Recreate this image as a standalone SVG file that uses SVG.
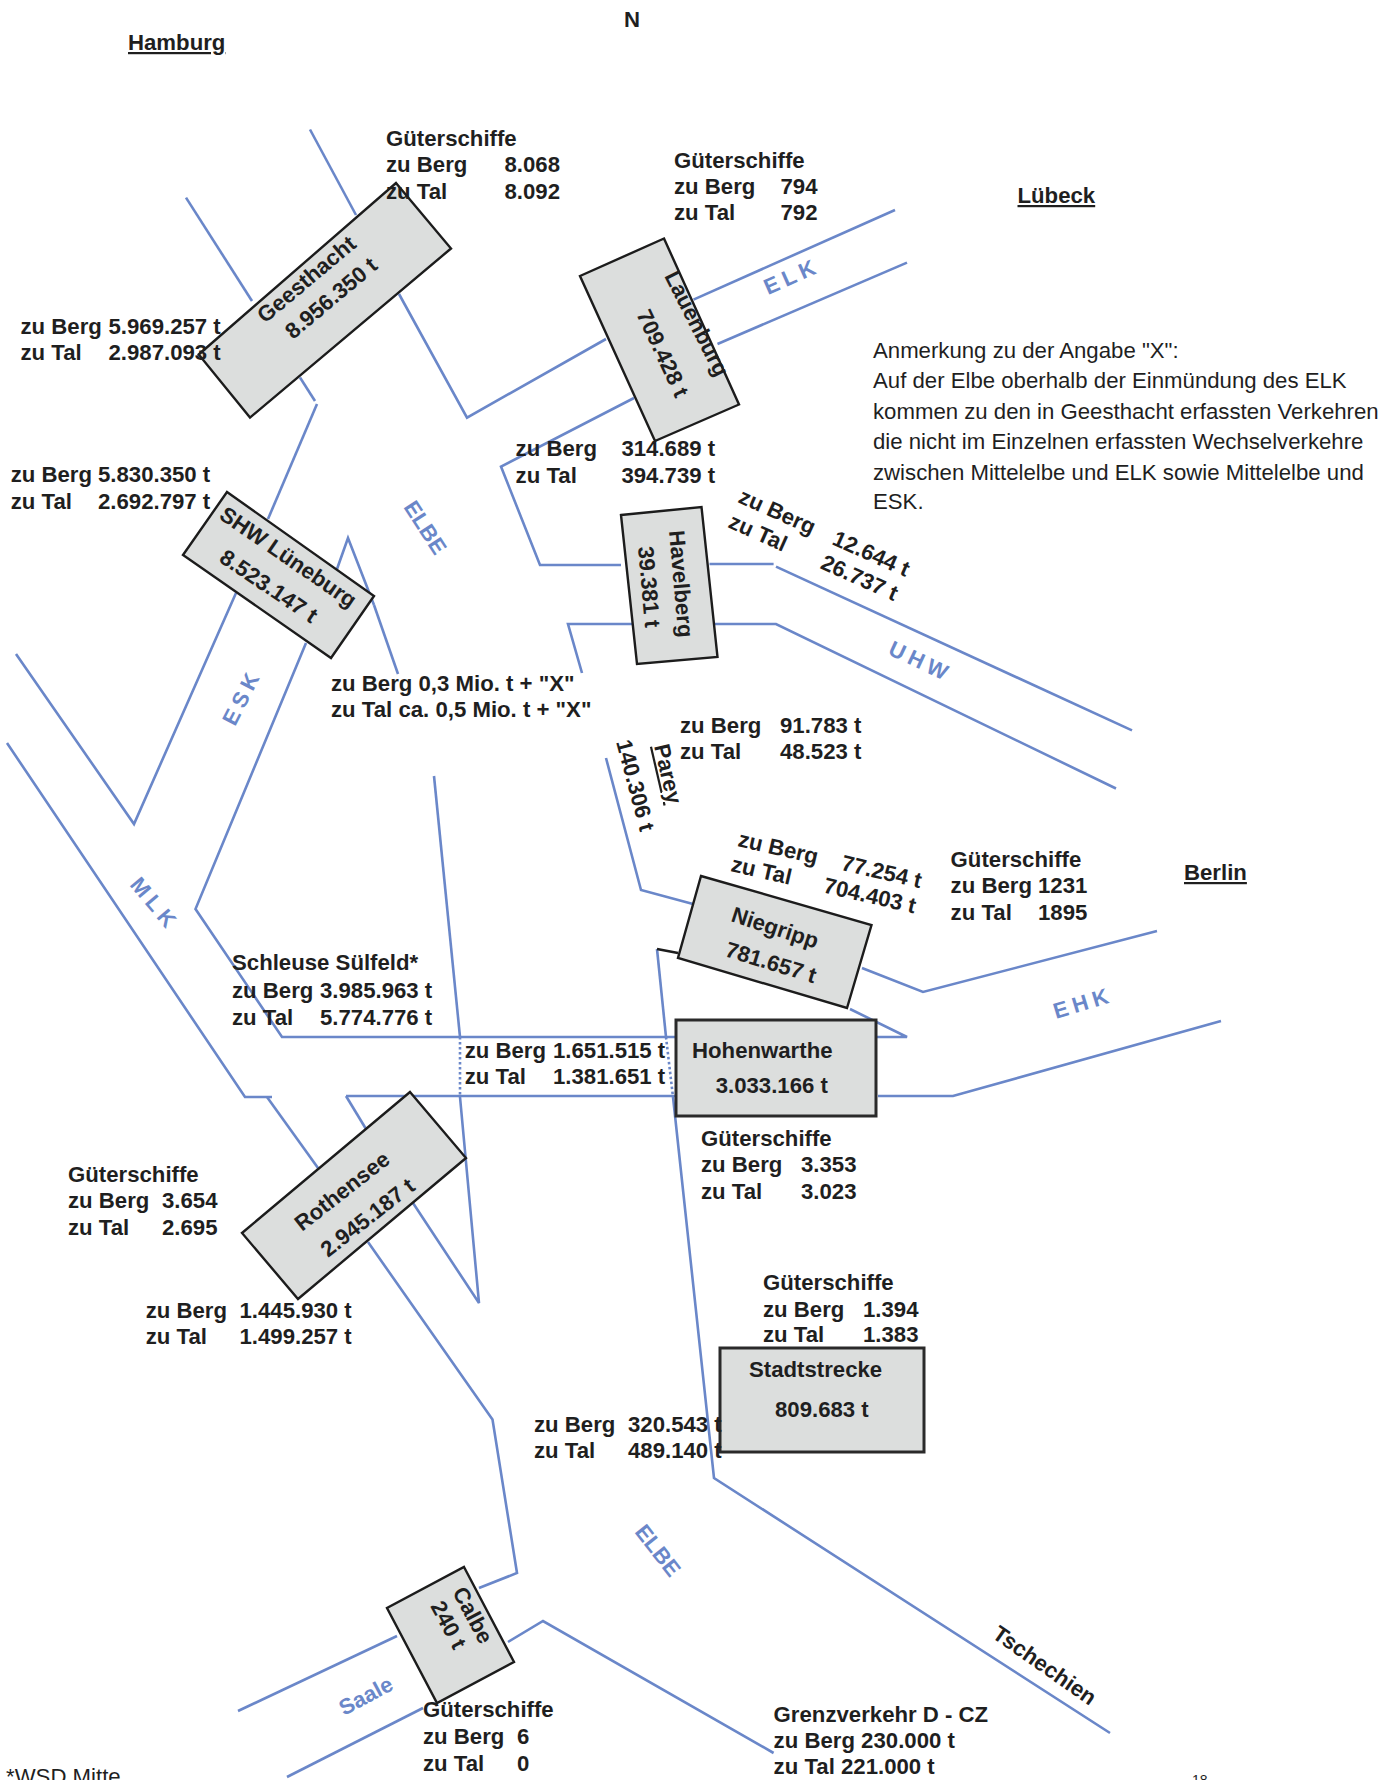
<svg xmlns="http://www.w3.org/2000/svg" width="1397" height="1780" viewBox="0 0 1397 1780">
<style>
text{font-family:"Liberation Sans",Arial,sans-serif;font-size:22.2px;font-weight:700;fill:#1f1f1f}
.r{font-weight:400}
.u{text-decoration:underline}
.w{fill:#6a87c9;font-size:22px}
.box{fill:#dcdedd;stroke:#1c1c1c;stroke-width:2.4;stroke-linejoin:miter}
.rb{stroke:#2a2a2a;stroke-width:3}
.l{fill:none;stroke:#6a87c9;stroke-width:2.6;stroke-linejoin:miter}
.d{fill:none;stroke:#6a87c9;stroke-width:2.6;stroke-dasharray:2.5 2.5}
.k{fill:none;stroke:#1c1c1c;stroke-width:2.4}
</style>
<rect width="1397" height="1780" fill="#fff"/>
<g id="connectors">
<polyline class="l" points="310,129.500 356,215"/>
<polyline class="l" points="399,294 467,417.600 606,339"/>
<polyline class="l" points="186,197.600 252,301"/>
<polyline class="l" points="300,377.500 315,401"/>
<polyline class="l" points="317,404 268,519"/>
<polyline class="l" points="236,593 134,824 16,654"/>
<polyline class="l" points="337,569 348,538 374,605"/>
<polyline class="l" points="374,605 398,674"/>
<polyline class="l" points="306,643 195.500,909 282,1037 676,1037"/>
<polyline class="l" points="7,743 245,1097 272,1097"/>
<polyline class="l" points="267,1097 318,1168"/>
<polyline class="l" points="368,1242 492.500,1419.500 517,1573 479,1588"/>
<polyline class="l" points="346,1096 676,1096"/>
<polyline class="l" points="346,1096 366,1129"/>
<polyline class="l" points="413,1203 479,1303 460,1097"/>
<polyline class="l" points="434,776 460,1037"/>
<line class="d" x1="460" y1="1037" x2="460" y2="1097"/>
<polyline class="l" points="657,949 666,1037"/>
<polyline class="k" points="657,949 678,953"/>
<line class="d" x1="666" y1="1037" x2="673" y2="1097"/>
<polyline class="l" points="673,1097 714,1478 1110,1733"/>
<polyline class="l" points="606,758 641,890 693,904"/>
<polyline class="l" points="862,968 923,992 1157,931"/>
<polyline class="l" points="850,1009 907,1037 875,1037"/>
<polyline class="l" points="878,1096 953,1096 1221,1021"/>
<polyline class="l" points="693.500,299.600 895,210"/>
<polyline class="l" points="717.500,344 907,262.600"/>
<polyline class="l" points="634,398 501,466.600 540,565 621,565"/>
<polyline class="l" points="709.500,564 773.600,564"/>
<polyline class="l" points="776,566.600 1132,730.400"/>
<polyline class="l" points="582,673 568,624 632,624"/>
<polyline class="l" points="715,624 776,624 1116,788.500"/>
<polyline class="l" points="238,1711 397,1636"/>
<polyline class="l" points="287,1777 423,1708"/>
<polyline class="l" points="508,1642 543,1621 773.600,1753"/>
</g>
<g id="node-geesthacht">
<polygon class="box" points="396,183 451,248.500 250,417.600 198.700,354.500"/>
<text transform="translate(265,324) rotate(-40)">Geesthacht</text>
<text transform="translate(293,340) rotate(-40)">8.956.350 t</text>
</g>
<g id="node-lauenburg">
<polygon class="box" points="664,238.500 739,404.500 655,441 580,276"/>
<text transform="translate(664,276) rotate(63)">Lauenburg</text>
<text transform="translate(636,314) rotate(65)">709.428 t</text>
</g>
<g id="node-shw">
<polygon class="box" points="227,492 374,596 331,658 183,555"/>
<text transform="translate(218,518) rotate(34.500)">SHW Lüneburg</text>
<text transform="translate(218,561) rotate(34)">8.523.147 t</text>
</g>
<g id="node-havelberg">
<polygon class="box" points="621,515 701.500,507 717.500,657 637,664"/>
<text transform="translate(669,531) rotate(85)">Havelberg</text>
<text transform="translate(638,547) rotate(85)">39.381 t</text>
</g>
<g id="node-niegripp">
<polygon class="box" points="701,876 871.500,925 847,1008 678,958" />
<text transform="translate(730,921) rotate(18)">Niegripp</text>
<text transform="translate(724,956) rotate(17)">781.657 t</text>
</g>
<g id="node-hohenwarthe">
<rect class="box rb" x="676" y="1020" width="200" height="96"/>
<text x="692" y="1058">Hohenwarthe</text>
<text x="715.700" y="1093">3.033.166 t</text>
</g>
<g id="node-rothensee">
<polygon class="box" points="410,1092 466,1158 298,1299 242,1233"/>
<text transform="translate(302,1232) rotate(-38)">Rothensee</text>
<text transform="translate(328,1258) rotate(-38)">2.945.187 t</text>
</g>
<g id="node-stadtstrecke">
<rect class="box rb" x="720" y="1348" width="204" height="104"/>
<text x="749" y="1377">Stadtstrecke</text>
<text x="775" y="1417">809.683 t</text>
</g>
<g id="node-calbe">
<polygon class="box" points="464,1567 514,1662 437,1703 387,1608"/>
<text transform="translate(452,1592) rotate(62)">Calbe</text>
<text transform="translate(430,1606) rotate(62)">240 t</text>
</g>
<g id="node-parey">
<text transform="translate(616,742) rotate(75)">140.306 t</text>
<text class="u" transform="translate(654,746) rotate(77)">Parey</text>
</g>
<g id="labels">
<text x="624" y="27">N</text>
<text class="u" x="128" y="50">Hamburg</text>
<text class="u" x="1017.500" y="203">Lübeck</text>
<text class="u" x="1184" y="880">Berlin</text>
<text x="386" y="146">Güterschiffe</text>
<text x="386" y="172">zu Berg<tspan x="504.500">8.068</tspan></text>
<text x="386" y="199">zu Tal<tspan x="504.500">8.092</tspan></text>
<text x="674" y="168">Güterschiffe</text>
<text x="674" y="194">zu Berg<tspan x="780.500">794</tspan></text>
<text x="674" y="220">zu Tal<tspan x="780.500">792</tspan></text>
<text class="r" x="873" y="358">Anmerkung zu der Angabe "X":</text>
<text class="r" x="873" y="388">Auf der Elbe oberhalb der Einmündung des ELK</text>
<text class="r" x="873" y="419">kommen zu den in Geesthacht erfassten Verkehren</text>
<text class="r" x="873" y="449">die nicht im Einzelnen erfassten Wechselverkehre</text>
<text class="r" x="873" y="479.500">zwischen Mittelelbe und ELK sowie Mittelelbe und</text>
<text class="r" x="873" y="509">ESK.</text>
<text x="20.500" y="334">zu Berg<tspan x="108.500">5.969.257 t</tspan></text>
<text x="20.500" y="360">zu Tal<tspan x="108.500">2.987.093 t</tspan></text>
<text x="10.700" y="482">zu Berg<tspan x="98">5.830.350 t</tspan></text>
<text x="10.700" y="509">zu Tal<tspan x="98">2.692.797 t</tspan></text>
<text x="515.600" y="456">zu Berg<tspan x="621.400">314.689 t</tspan></text>
<text x="515.600" y="482.500">zu Tal<tspan x="621.400">394.739 t</tspan></text>
<text transform="translate(737,502) rotate(24)">zu Berg<tspan x="103">12.644 t</tspan></text>
<text transform="translate(727,527) rotate(24)">zu Tal<tspan x="101">26.737 t</tspan></text>
<text x="331" y="690.700">zu Berg 0,3 Mio. t + "X"</text>
<text x="331" y="717">zu Tal ca. 0,5 Mio. t + "X"</text>
<text x="680" y="732.700">zu Berg<tspan x="780">91.783 t</tspan></text>
<text x="680" y="759">zu Tal<tspan x="780">48.523 t</tspan></text>
<text transform="translate(737,846) rotate(13)">zu Berg<tspan x="106">77.254 t</tspan></text>
<text transform="translate(730,871) rotate(13)">zu Tal<tspan x="95">704.403 t</tspan></text>
<text x="950.600" y="866.700">Güterschiffe</text>
<text x="950.600" y="893">zu Berg<tspan x="1038">1231</tspan></text>
<text x="950.600" y="920">zu Tal<tspan x="1038">1895</tspan></text>
<text x="232" y="970">Schleuse Sülfeld*</text>
<text x="232" y="998">zu Berg<tspan x="320">3.985.963 t</tspan></text>
<text x="232" y="1025">zu Tal<tspan x="320">5.774.776 t</tspan></text>
<text x="464.700" y="1057.700">zu Berg<tspan x="553">1.651.515 t</tspan></text>
<text x="464.700" y="1084">zu Tal<tspan x="553">1.381.651 t</tspan></text>
<text x="701" y="1145.700">Güterschiffe</text>
<text x="701" y="1172">zu Berg<tspan x="801">3.353</tspan></text>
<text x="701" y="1199">zu Tal<tspan x="801">3.023</tspan></text>
<text x="68" y="1182">Güterschiffe</text>
<text x="68" y="1208">zu Berg<tspan x="162">3.654</tspan></text>
<text x="68" y="1235">zu Tal<tspan x="162">2.695</tspan></text>
<text x="145.700" y="1318">zu Berg<tspan x="239.500">1.445.930 t</tspan></text>
<text x="145.700" y="1344">zu Tal<tspan x="239.500">1.499.257 t</tspan></text>
<text x="763" y="1290">Güterschiffe</text>
<text x="763" y="1317">zu Berg<tspan x="863">1.394</tspan></text>
<text x="763" y="1342">zu Tal<tspan x="863">1.383</tspan></text>
<text x="534" y="1431.500">zu Berg<tspan x="628">320.543 t</tspan></text>
<text x="534" y="1458">zu Tal<tspan x="628">489.140 t</tspan></text>
<text x="423" y="1717">Güterschiffe</text>
<text x="423" y="1744">zu Berg<tspan x="517">6</tspan></text>
<text x="423" y="1771">zu Tal<tspan x="517">0</tspan></text>
<text x="773.600" y="1722">Grenzverkehr D - CZ</text>
<text x="773.600" y="1748">zu Berg 230.000 t</text>
<text x="773.600" y="1774">zu Tal 221.000 t</text>
<text transform="translate(991,1637) rotate(35)">Tschechien</text>
<text class="r" x="6" y="1784">*WSD Mitte</text>
<text class="r" x="1192" y="1785" style="font-size:14px">18</text>
<text class="w" transform="translate(403,507) rotate(57)">ELBE</text>
<text class="w" transform="translate(768,295) rotate(-24)" letter-spacing="5">ELK</text>
<text class="w" transform="translate(887,654) rotate(25)" letter-spacing="5">UHW</text>
<text class="w" transform="translate(235,727) rotate(-63)" letter-spacing="5">ESK</text>
<text class="w" transform="translate(129,885) rotate(50)" letter-spacing="5">MLK</text>
<text class="w" transform="translate(1056,1019) rotate(-17)" letter-spacing="5">EHK</text>
<text class="w" transform="translate(634,1532) rotate(52)">ELBE</text>
<text class="w" transform="translate(344,1716) rotate(-28)">Saale</text>
</g>
</svg>
